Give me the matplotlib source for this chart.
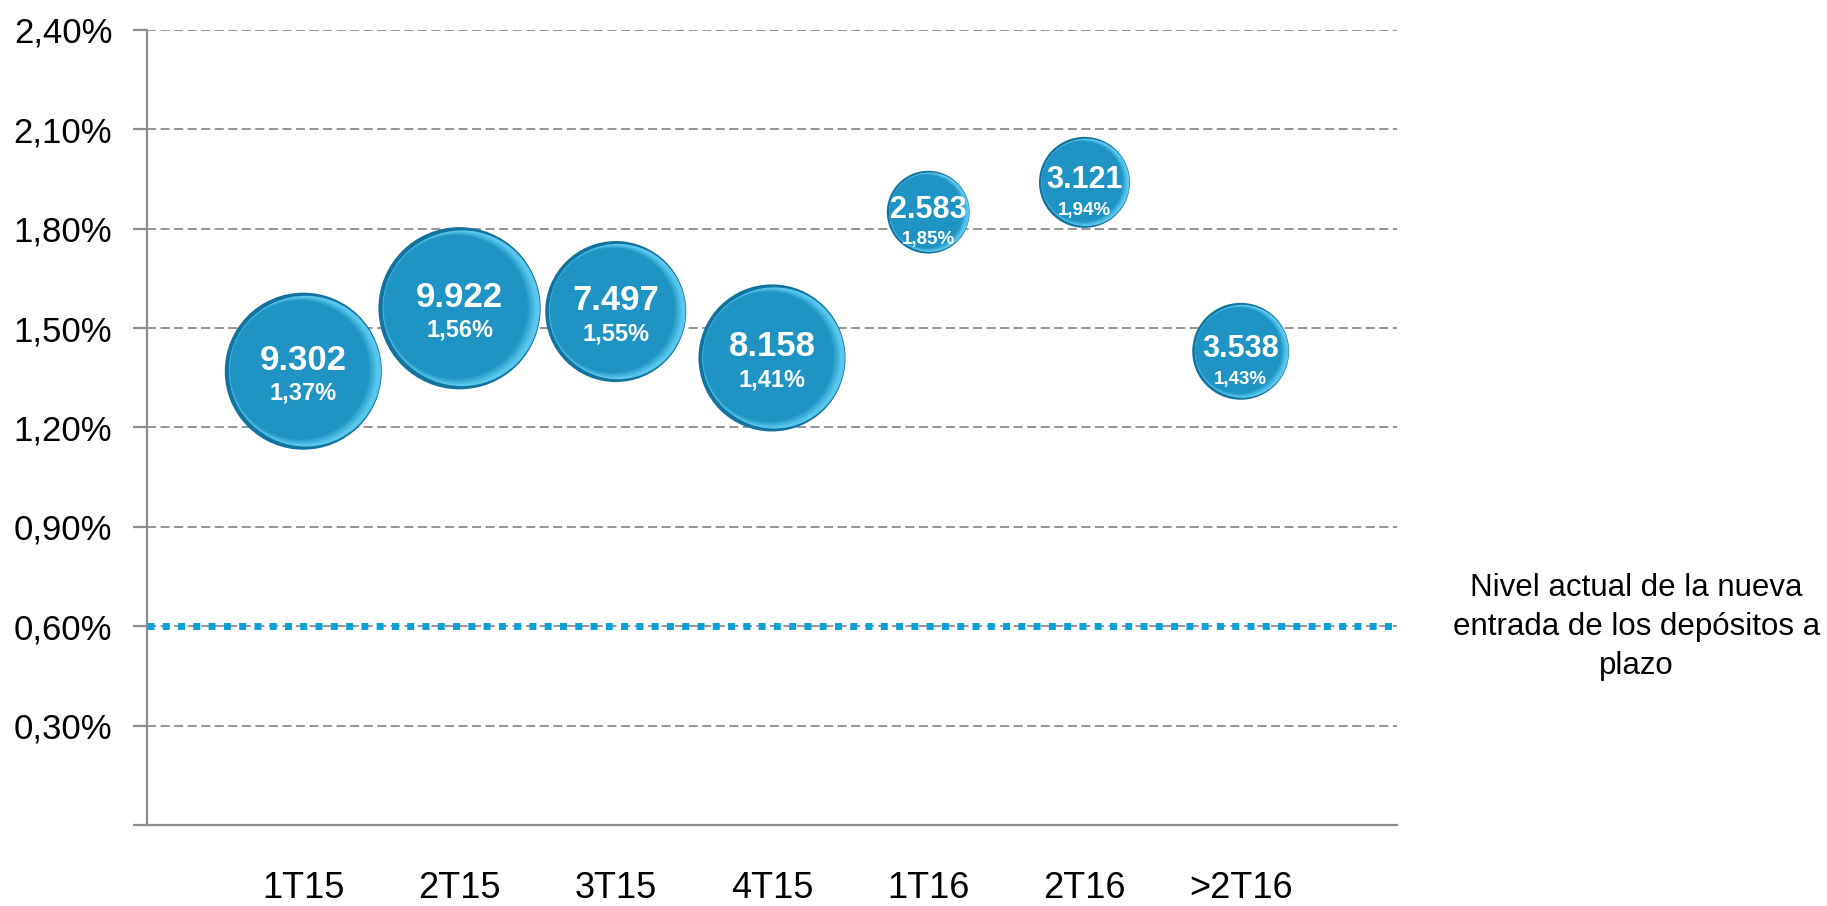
import numpy as np
import matplotlib
matplotlib.use("Agg")
import matplotlib.pyplot as plt
from matplotlib.transforms import ScaledTranslation
from matplotlib.ticker import FixedLocator

plt.rcParams['font.family'] = ['Liberation Sans', 'DejaVu Sans']

# data
periods = ['1T15', '2T15', '3T15', '4T15', '1T16', '2T16', '>2T16']
volumes = [9302, 9922, 7497, 8158, 2583, 3121, 3538]
rates = [1.37, 1.56, 1.55, 1.41, 1.85, 1.94, 1.43]
current_level = 0.60
yticks = [0.0, 0.3, 0.6, 0.9, 1.2, 1.5, 1.8, 2.1, 2.4]
note = 'Nivel actual de la nueva\nentrada de los depósitos a\nplazo'


def fmt_es(v, dec=2):
    return f'{v:.{dec}f}'.replace('.', ',')


def fmt_thousands(v):
    return f'{v:,}'.replace(',', '.')


fig = plt.figure(figsize=(18.27, 9.06), dpi=100)
ax = fig.add_axes([0.0805, 0.0894, 0.6841, 0.8775])

x = np.arange(1, len(periods) + 1)
ax.set_xlim(0, 8)
ax.set_ylim(0, 2.4)

# grid
for y in yticks[1:]:
    ax.axhline(y, color='#8c8c8c', lw=1.3, ls=(0, (5, 2.5)), zorder=1)

# current level dotted line (blue squares)
ax.axhline(current_level, color='#0aa0d8', lw=5, ls=(0, (1, 1.2)),
           dash_capstyle='butt', zorder=2)

# bubbles: layered circles to fake the cushion shading
scale = 1.375  # points^2 per unit volume
dark = np.array([0.08, 0.45, 0.62])
light = np.array([0.35, 0.78, 0.93])
mid = np.array([0.12, 0.58, 0.77])
n_layers = 12


def shifted(dx, dy):
    return ax.transData + ScaledTranslation(dx, dy, fig.dpi_scale_trans)


for xi, yi, v in zip(x, rates, volumes):
    s0 = scale * v
    d0 = np.sqrt(s0) / 72.0  # diameter in inches
    ax.scatter([xi], [yi], s=s0, color=dark, edgecolors='none', zorder=3)
    ax.scatter([xi], [yi], s=s0 * 0.96 ** 2, color=light, edgecolors='none',
               transform=shifted(0.015 * d0, 0.0), zorder=3)
    for k in range(1, n_layers + 1):
        t = k / n_layers
        frac = 0.95 - 0.10 * t
        c = light + (mid - light) * min(1.0, t * 1.5)
        ax.scatter([xi], [yi], s=s0 * frac ** 2, color=c, edgecolors='none',
                   transform=shifted(-0.035 * d0 * t, 0.012 * d0 * t), zorder=3)
    big = v > 5000
    ax.annotate(fmt_thousands(v), (xi, yi), xytext=(0, 8 if big else 1.5),
                textcoords='offset points', ha='center', va='center',
                color='white', fontweight='bold', fontsize=25 if big else 22, zorder=5)
    ax.annotate(fmt_es(yi) + '%', (xi, yi), xytext=(0, -16 if big else -20),
                textcoords='offset points', ha='center', va='center',
                color='white', fontweight='bold', fontsize=17 if big else 13.5, zorder=5)

# axes styling
for side in ['top', 'right']:
    ax.spines[side].set_visible(False)
for side in ['left', 'bottom']:
    ax.spines[side].set_color('#8c8c8c')
    ax.spines[side].set_linewidth(1.6)

ax.yaxis.set_major_locator(FixedLocator(yticks))
ax.set_yticklabels([''] + [fmt_es(y) + '%' for y in yticks[1:]])
ax.tick_params(axis='y', length=10, width=1.6, color='#8c8c8c', pad=15, labelsize=25)
ax.set_xticks(x)
ax.set_xticklabels(periods)
ax.tick_params(axis='x', length=0, pad=33, labelsize=26)

fig.text(0.8955, 0.308, note, ha='center', va='center', fontsize=22.5,
         linespacing=1.4)

fig.savefig('out.png', dpi=100)
